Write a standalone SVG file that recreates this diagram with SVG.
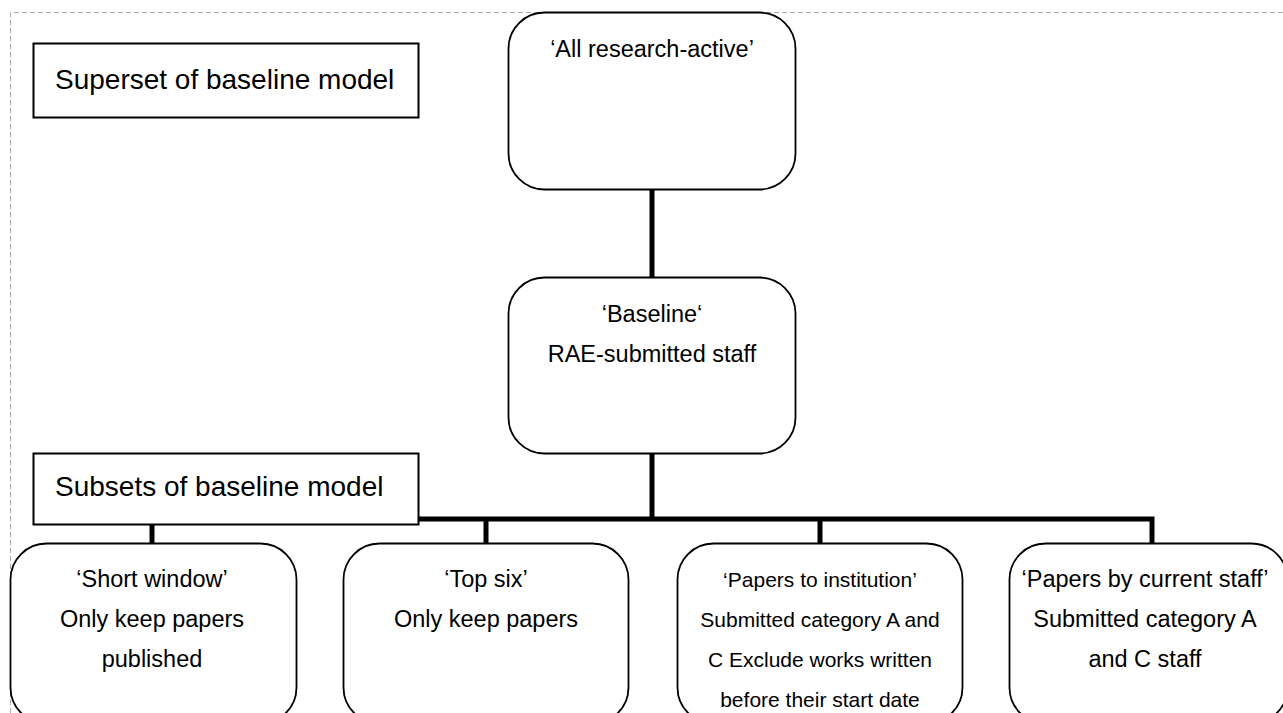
<svg xmlns="http://www.w3.org/2000/svg" width="1283" height="713" viewBox="0 0 1283 713">
<style>
.node{fill:#fff;stroke:#000;stroke-width:1.8}
.lbl{fill:#fff;stroke:#000;stroke-width:2}
.t{font-family:"Liberation Sans",Arial,sans-serif;fill:#000;text-anchor:middle}
.n{font-size:23.5px}
.s{font-size:21px}
.big{font-family:"Liberation Sans",Arial,sans-serif;font-size:28px;fill:#000}
.c{fill:none;stroke:#000;stroke-width:5}
</style>
<rect width="1283" height="713" fill="#fff"/>
<path d="M10.5 713 V12.5 H1283" fill="none" stroke="#aaa" stroke-width="1" stroke-dasharray="5,3"/>
<g id="connectors">
<line class="c" x1="652" y1="189" x2="652" y2="278"/>
<line class="c" x1="652" y1="453" x2="652" y2="519"/>
<path class="c" d="M152 543 V519 H1152 V543"/>
<line class="c" x1="486" y1="519" x2="486" y2="543"/>
<line class="c" x1="820" y1="519" x2="820" y2="543"/>
</g>
<g id="superset">
<rect class="lbl" x="33.5" y="43.5" width="385" height="74"/>
<text class="big" x="55" y="89">Superset of baseline model</text>
</g>
<g id="all-research-active">
<rect class="node" x="508.5" y="12.5" width="287" height="177" rx="36"/>
<text class="t n" x="652" y="57">‘All research-active’</text>
</g>
<g id="baseline">
<rect class="node" x="508.5" y="277.5" width="287" height="176" rx="36"/>
<text class="t n" x="652" y="322">‘Baseline‘</text>
<text class="t n" x="652" y="362">RAE-submitted staff</text>
</g>
<g id="subsets">
<rect class="lbl" x="33.5" y="453.5" width="385" height="71"/>
<text class="big" x="55" y="496">Subsets of baseline model</text>
</g>
<g id="short-window">
<rect class="node" x="10.5" y="543.5" width="286" height="180" rx="36"/>
<text class="t n" x="152" y="587">‘Short window’</text>
<text class="t n" x="152" y="627">Only keep papers</text>
<text class="t n" x="152" y="667">published</text>
</g>
<g id="top-six">
<rect class="node" x="343.5" y="543.5" width="285" height="180" rx="36"/>
<text class="t n" x="486" y="587">‘Top six’</text>
<text class="t n" x="486" y="627">Only keep papers</text>
</g>
<g id="papers-to-institution">
<rect class="node" x="677.5" y="543.5" width="285" height="180" rx="36"/>
<text class="t s" x="820" y="587">‘Papers to institution’</text>
<text class="t s" x="820" y="627">Submitted category A and</text>
<text class="t s" x="820" y="667">C Exclude works written</text>
<text class="t s" x="820" y="707">before their start date</text>
</g>
<g id="papers-by-current-staff">
<rect class="node" x="1009.5" y="543.5" width="278" height="180" rx="36"/>
<text class="t n" x="1145" y="587">‘Papers by current staff’</text>
<text class="t n" x="1145" y="627">Submitted category A</text>
<text class="t n" x="1145" y="667">and C staff</text>
</g>
</svg>
